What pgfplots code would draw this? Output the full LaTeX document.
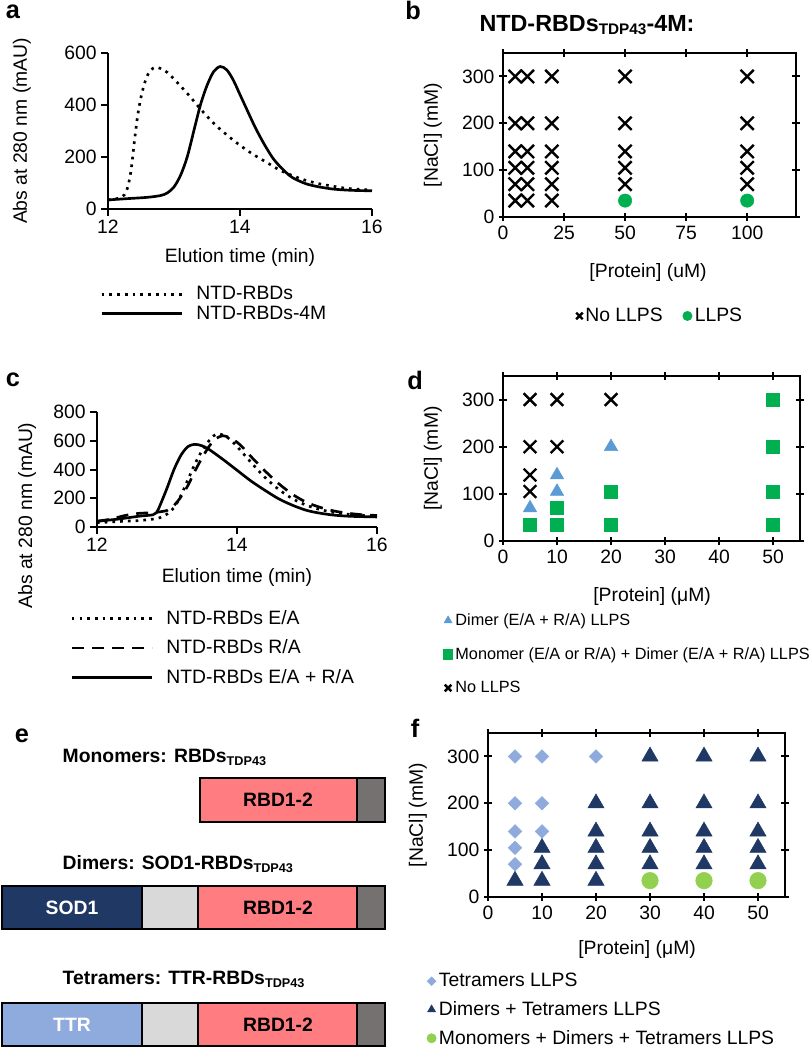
\documentclass[border=0pt]{standalone}
\usepackage{fontspec}
\setmainfont{Liberation Sans}
\usepackage{pgfplots}
\pgfplotsset{compat=1.18}
\def\px{0.75pt}
\definecolor{cgreen}{HTML}{00B050}
\definecolor{lgreen}{HTML}{92D050}
\definecolor{tblue}{HTML}{5B9BD5}
\definecolor{navy}{HTML}{203864}
\definecolor{lblue}{HTML}{8FAADC}
\definecolor{salmon}{HTML}{FF7C80}
\definecolor{lgray}{HTML}{D9D9D9}
\definecolor{dgray}{HTML}{767171}
\definecolor{sodblue}{HTML}{1F3864}
\newcommand\fs{\fontsize{14.5}{17}\selectfont}
\newcommand\fsd{\fontsize{12.2}{14}\selectfont}
\newcommand\sub[1]{\raisebox{-0.3ex}{\fontsize{9.5}{10}\selectfont #1}}
\newcommand\subb[1]{\raisebox{-0.3ex}{\fontsize{11.5}{12}\selectfont #1}}
\pgfplotsset{
  base/.style={scale only axis, anchor=south west,
    axis line style={line width=1.5pt},
    tick style={line width=1.5pt, black},
    major tick length=6pt, tick align=center,
    tick label style={font=\fs},
    label style={font=\fs},
    /pgf/number format/assume math mode=true,
    legend cell align=left,
    clip=false,
  },
  curve/.style={base, axis lines=left, axis line style={-, line width=1.5pt},
    tick align=outside, major tick length=5pt,
    xmin=12, xmax=16, xtick={12,14,16}, ymin=0,
    legend image code/.code={\draw[##1] (0pt,0pt) -- (60pt,0pt);},
    legend style={draw=none, fill=none, font=\fs, anchor=north west,
      nodes={inner sep=1pt},
      /tikz/every odd column/.append style={column sep=9pt}},
  },
  phase/.style={base, ymin=0, ymax=350, ytick={0,100,200,300}, xmin=0,
    legend image code/.code={\draw[##1, mark size=3.5pt] plot coordinates {(0pt,0pt)};},
    legend style={draw=none, fill=none, anchor=north west,
      nodes={inner sep=1pt},
      /tikz/every odd column/.append style={column sep=1pt}},
  },
  smallmark/.style={legend image code/.code={\draw[##1, mark size=2.3pt] plot coordinates {(0pt,0pt)};}},
  dotl/.style={black, line width=2pt, dash pattern=on 2pt off 3.8pt},
  dashl/.style={black, line width=2pt, dash pattern=on 9pt off 6pt},
  soll/.style={black, line width=2pt},
}
\begin{document}
\begin{tikzpicture}
\useasboundingbox (0,0) rectangle ({812*\px},{-1050*\px});
% panel letters
\node[font=\fontsize{19}{20}\bfseries\selectfont] at ({13*\px},{-12*\px}) {a};
\node[font=\fontsize{19}{20}\bfseries\selectfont] at ({413*\px},{-10*\px}) {b};
\node[font=\fontsize{19}{20}\bfseries\selectfont] at ({13*\px},{-380*\px}) {c};
\node[font=\fontsize{19}{20}\bfseries\selectfont] at ({415*\px},{-380*\px}) {d};
\node[font=\fontsize{19}{20}\bfseries\selectfont] at ({22*\px},{-736*\px}) {e};
\node[font=\fontsize{19}{20}\bfseries\selectfont] at ({415*\px},{-728*\px}) {f};

% ---------------- a
\begin{axis}[curve, at={({108*\px},{-209*\px})}, width={264*\px}, height={156*\px},
  ymax=600, ytick={0,200,400,600},
  xlabel={Elution time (min)}, ylabel={Abs at 280 nm (mAU)},
  xlabel style={at={(axis description cs:0.5,-0.308)}, anchor=center},
  ylabel style={at={(axis description cs:-0.326,0.5)}, anchor=center},
  legend style={at={(axis description cs:-0.045,-0.47)}, row sep=1pt}]
\addplot[dotl, smooth] coordinates {(12.0,35)(12.1,38)(12.2,45)(12.25,55)(12.3,85)(12.35,150)(12.4,260)(12.45,360)(12.5,430)(12.55,480)(12.6,515)(12.65,535)(12.72,545)(12.8,540)(12.9,525)(13.0,500)(13.2,445)(13.4,385)(13.6,330)(13.8,285)(14.0,245)(14.2,210)(14.4,180)(14.6,150)(14.8,128)(15.0,110)(15.2,97)(15.4,88)(15.6,80)(15.8,76)(16.0,73)};
\addlegendentry{NTD-RBDs}
\addplot[soll, smooth] coordinates {(12.0,35)(12.3,40)(12.6,45)(12.8,52)(12.9,62)(13.0,85)(13.1,130)(13.2,200)(13.3,300)(13.4,400)(13.5,475)(13.6,528)(13.7,548)(13.8,535)(13.9,495)(14.0,440)(14.1,385)(14.2,330)(14.3,280)(14.4,235)(14.5,195)(14.6,165)(14.7,140)(14.8,120)(15.0,97)(15.2,85)(15.4,77)(15.6,73)(15.8,71)(16.0,70)};
\addlegendentry{NTD-RBDs-4M}
\end{axis}

% ---------------- b
\node[font=\fontsize{17.5}{20}\bfseries\selectfont] at ({587*\px},{-25*\px}) {NTD-RBDs\subb{TDP43}-4M:};
\begin{axis}[phase, at={({503*\px},{-217*\px})}, width={293*\px}, height={164*\px},
  xmax=120, xtick={0,25,50,75,100},
  xlabel={[Protein] (uM)}, ylabel={[NaCl] (mM)},
  xlabel style={at={(axis description cs:0.495,-0.341)}, anchor=center},
  ylabel style={at={(axis description cs:-0.239,0.5)}, anchor=center},
  legend columns=2,
  legend style={font=\fs, at={(axis description cs:0.235,-0.53)},
    /tikz/every even column/.append style={column sep=14pt}}]
\addplot[only marks, mark=x, mark size=7pt, line width=1.8pt, black] coordinates {
(5,35)(5,70)(5,105)(5,140)(5,200)(5,300)
(10,35)(10,70)(10,105)(10,140)(10,200)(10,300)
(20,35)(20,70)(20,105)(20,140)(20,200)(20,300)
(50,70)(50,105)(50,140)(50,200)(50,300)
(100,70)(100,105)(100,140)(100,200)(100,300)};
\addlegendentry{No LLPS}
\addplot[only marks, mark=*, mark size=5pt, cgreen, mark options={draw=cgreen, fill=cgreen}] coordinates {(50,35)(100,35)};
\addlegendentry{LLPS}
\end{axis}

% ---------------- c
\begin{axis}[curve, at={({97*\px},{-527*\px})}, width={280*\px}, height={115*\px},
  ymax=800, ytick={0,200,400,600,800},
  xlabel={Elution time (min)}, ylabel={Abs at 280 nm (mAU)},
  xlabel style={at={(axis description cs:0.5,-0.435)}, anchor=center},
  ylabel style={at={(axis description cs:-0.25,0.1)}, anchor=center},
  legend style={at={(axis description cs:-0.11,-0.69)}, row sep=8pt}]
\addplot[dotl, smooth] coordinates {(12.0,30)(12.3,38)(12.6,45)(12.8,55)(12.9,65)(13.0,90)(13.1,135)(13.2,220)(13.3,330)(13.4,440)(13.5,530)(13.6,600)(13.7,645)(13.8,640)(13.9,610)(14.0,560)(14.1,505)(14.2,450)(14.4,345)(14.6,260)(14.8,195)(15.0,150)(15.2,120)(15.4,100)(15.6,88)(15.8,80)(16.0,75)};
\addlegendentry{NTD-RBDs E/A}
\addplot[dashl, smooth] coordinates {(12.0,40)(12.2,55)(12.4,80)(12.6,95)(12.8,100)(13.0,115)(13.1,150)(13.2,210)(13.3,290)(13.4,390)(13.5,480)(13.6,560)(13.7,615)(13.8,635)(13.9,620)(14.0,590)(14.1,545)(14.2,490)(14.4,390)(14.6,300)(14.8,225)(15.0,170)(15.2,135)(15.4,110)(15.6,95)(15.8,85)(16.0,80)};
\addlegendentry{NTD-RBDs R/A}
\addplot[soll, smooth] coordinates {(12.0,40)(12.3,55)(12.6,75)(12.8,85)(12.85,100)(12.9,150)(13.0,270)(13.1,400)(13.2,500)(13.3,560)(13.4,575)(13.5,565)(13.6,540)(13.8,470)(14.0,395)(14.2,320)(14.4,255)(14.6,195)(14.8,150)(15.0,115)(15.2,95)(15.4,82)(15.6,75)(15.8,72)(16.0,70)};
\addlegendentry{NTD-RBDs E/A + R/A}
\end{axis}

% ---------------- d
\begin{axis}[phase, at={({503*\px},{-541*\px})}, width={297*\px}, height={165*\px},
  xmax=55, xtick={0,10,20,30,40,50},
  xlabel={[Protein] (μM)}, ylabel={[NaCl] (mM)},
  xlabel style={at={(axis description cs:0.502,-0.339)}, anchor=center},
  ylabel style={at={(axis description cs:-0.236,0.5)}, anchor=center},
  legend style={font=\fsd, at={(axis description cs:-0.215,-0.415)}, row sep=13pt}]
\addplot[only marks, mark=triangle*, mark size=5.8pt, tblue, mark options={draw=tblue, fill=tblue}] coordinates {(20,200)(10,140)(10,105)(5,70)};
\addlegendentry{Dimer (E/A + R/A) LLPS}
\addplot[only marks, mark=square*, mark size=5pt, cgreen, mark options={draw=cgreen, fill=cgreen}] coordinates {(50,300)(50,200)(20,105)(50,105)(10,70)(5,35)(10,35)(20,35)(50,35)};
\addlegendentry{Monomer (E/A or R/A) + Dimer (E/A + R/A) LLPS}
\addplot[only marks, mark=x, mark size=6.7pt, line width=1.8pt, black] coordinates {(5,300)(10,300)(20,300)(5,200)(10,200)(5,140)(5,105)};
\addlegendentry{No LLPS}
\end{axis}

% ---------------- e
\node[anchor=west, font=\fs\bfseries] at ({58*\px},{-757*\px}) {Monomers: RBDs\sub{TDP43}};
\draw[line width=1.5pt, fill=salmon] ({200*\px},{-778*\px}) rectangle ({357*\px},{-822*\px});
\draw[line width=1.5pt, fill=dgray] ({357*\px},{-778*\px}) rectangle ({385*\px},{-822*\px});
\node[font=\fs\bfseries] at ({278*\px},{-800*\px}) {RBD1-2};

\node[anchor=west, font=\fs\bfseries] at ({58*\px},{-864*\px}) {Dimers: SOD1-RBDs\sub{TDP43}};
\draw[line width=1.5pt, fill=sodblue] ({2*\px},{-886*\px}) rectangle ({142*\px},{-929*\px});
\draw[line width=1.5pt, fill=lgray] ({142*\px},{-886*\px}) rectangle ({198*\px},{-929*\px});
\draw[line width=1.5pt, fill=salmon] ({198*\px},{-886*\px}) rectangle ({357*\px},{-929*\px});
\draw[line width=1.5pt, fill=dgray] ({357*\px},{-886*\px}) rectangle ({385*\px},{-929*\px});
\node[font=\fs\bfseries, text=white] at ({72*\px},{-908*\px}) {SOD1};
\node[font=\fs\bfseries] at ({278*\px},{-908*\px}) {RBD1-2};

\node[anchor=west, font=\fs\bfseries] at ({58*\px},{-979*\px}) {Tetramers: TTR-RBDs\sub{TDP43}};
\draw[line width=1.5pt, fill=lblue] ({2*\px},{-1003*\px}) rectangle ({142*\px},{-1046*\px});
\draw[line width=1.5pt, fill=lgray] ({142*\px},{-1003*\px}) rectangle ({198*\px},{-1046*\px});
\draw[line width=1.5pt, fill=salmon] ({198*\px},{-1003*\px}) rectangle ({357*\px},{-1046*\px});
\draw[line width=1.5pt, fill=dgray] ({357*\px},{-1003*\px}) rectangle ({385*\px},{-1046*\px});
\node[font=\fs\bfseries, text=white] at ({72*\px},{-1025*\px}) {TTR};
\node[font=\fs\bfseries] at ({278*\px},{-1025*\px}) {RBD1-2};

% ---------------- f
\begin{axis}[phase, at={({488*\px},{-897*\px})}, width={297*\px}, height={164*\px},
  xmax=55, xtick={0,10,20,30,40,50},
  xlabel={[Protein] (μM)}, ylabel={[NaCl] (mM)},
  xlabel style={at={(axis description cs:0.502,-0.323)}, anchor=center},
  ylabel style={at={(axis description cs:-0.236,0.5)}, anchor=center},
  legend style={font=\fs, at={(axis description cs:-0.22,-0.44)}, row sep=7.5pt}]
\addplot[only marks, mark=square*, mark size=3.6pt, lblue, mark options={draw=lblue, fill=lblue, rotate=45}, smallmark] coordinates {(5,300)(10,300)(20,300)(5,200)(10,200)(5,140)(10,140)(5,105)(5,70)};
\addlegendentry{Tetramers LLPS}
\addplot[only marks, mark=triangle*, mark size=7pt, navy, mark options={draw=navy, fill=navy}] coordinates {(30,300)(40,300)(50,300)(20,200)(30,200)(40,200)(50,200)(20,140)(30,140)(40,140)(50,140)(10,105)(20,105)(30,105)(40,105)(50,105)(10,70)(20,70)(30,70)(40,70)(50,70)(5,35)(10,35)(20,35)};
\addlegendentry{Dimers + Tetramers LLPS}
\addplot[only marks, mark=*, mark size=6.2pt, lgreen, mark options={draw=lgreen, fill=lgreen}] coordinates {(30,35)(40,35)(50,35)};
\addlegendentry{Monomers + Dimers + Tetramers LLPS}
\end{axis}
\end{tikzpicture}
\end{document}
